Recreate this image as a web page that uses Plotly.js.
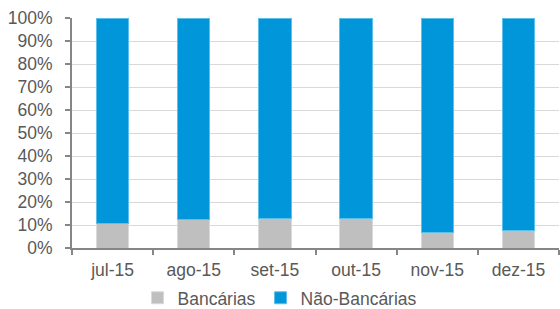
<!DOCTYPE html>
<html><head><meta charset="utf-8">
<script src="https://cdn.plot.ly/plotly-3.0.1.min.js"></script>
<style>html,body{margin:0;padding:0;background:#fff}#chart{width:560px;height:309px}</style>
</head><body><div id="chart"></div>
<script>
const categories = ["jul-15","ago-15","set-15","out-15","nov-15","dez-15"];
const bancarias = [10.6, 12.4, 12.7, 12.7, 6.8, 7.4];
const naoBancarias = [89.4, 87.6, 87.3, 87.3, 93.2, 92.6];
const yTicks = [0,10,20,30,40,50,60,70,80,90,100];
const yTickLabels = yTicks.map(v => v + "%");

const font = {family: "Liberation Sans, Arial, sans-serif", size: 17.5, color: "#595959"};
const data = [
  {type: "bar", name: "Bancárias", x: categories, y: bancarias,
   marker: {color: "#BFBFBF", line: {color: "#D9D9D9", width: 1}}},
  {type: "bar", name: "Não-Bancárias", x: categories, y: naoBancarias,
   marker: {color: "#0096D9", line: {color: "#5CC0EA", width: 1}}}
];
const layout = {
  width: 560, height: 309,
  margin: {l: 72, r: 1, t: 18, b: 61, autoexpand: false},
  barmode: "stack", bargap: 0.6,
  paper_bgcolor: "#fff", plot_bgcolor: "#fff",
  font: font,
  showlegend: true,
  legend: {orientation: "h", traceorder: "normal", x: 0.5, xanchor: "center", xref: "container",
           y: 0.036, yanchor: "middle", yref: "container",
           font: font, itemwidth: 30, tracegroupgap: 0},
  xaxis: {type: "category", showline: true, linecolor: "#868686", linewidth: 2,
          ticks: "outside", tickson: "boundaries", ticklen: 5, tickcolor: "#868686", tickwidth: 2,
          showgrid: false, tickfont: font, ticklabelstandoff: 5},
  yaxis: {range: [0, 100], tickvals: yTicks, ticktext: yTickLabels, showline: true,
          linecolor: "#868686", linewidth: 2, ticks: "outside", ticklen: 5, tickcolor: "#868686", tickwidth: 2,
          showgrid: true, gridcolor: "#D9D9D9", gridwidth: 1, zeroline: false, tickfont: font,
          ticklabelstandoff: 9}
};
Plotly.newPlot("chart", data, layout, {staticPlot: true, displayModeBar: false});
</script></body></html>
